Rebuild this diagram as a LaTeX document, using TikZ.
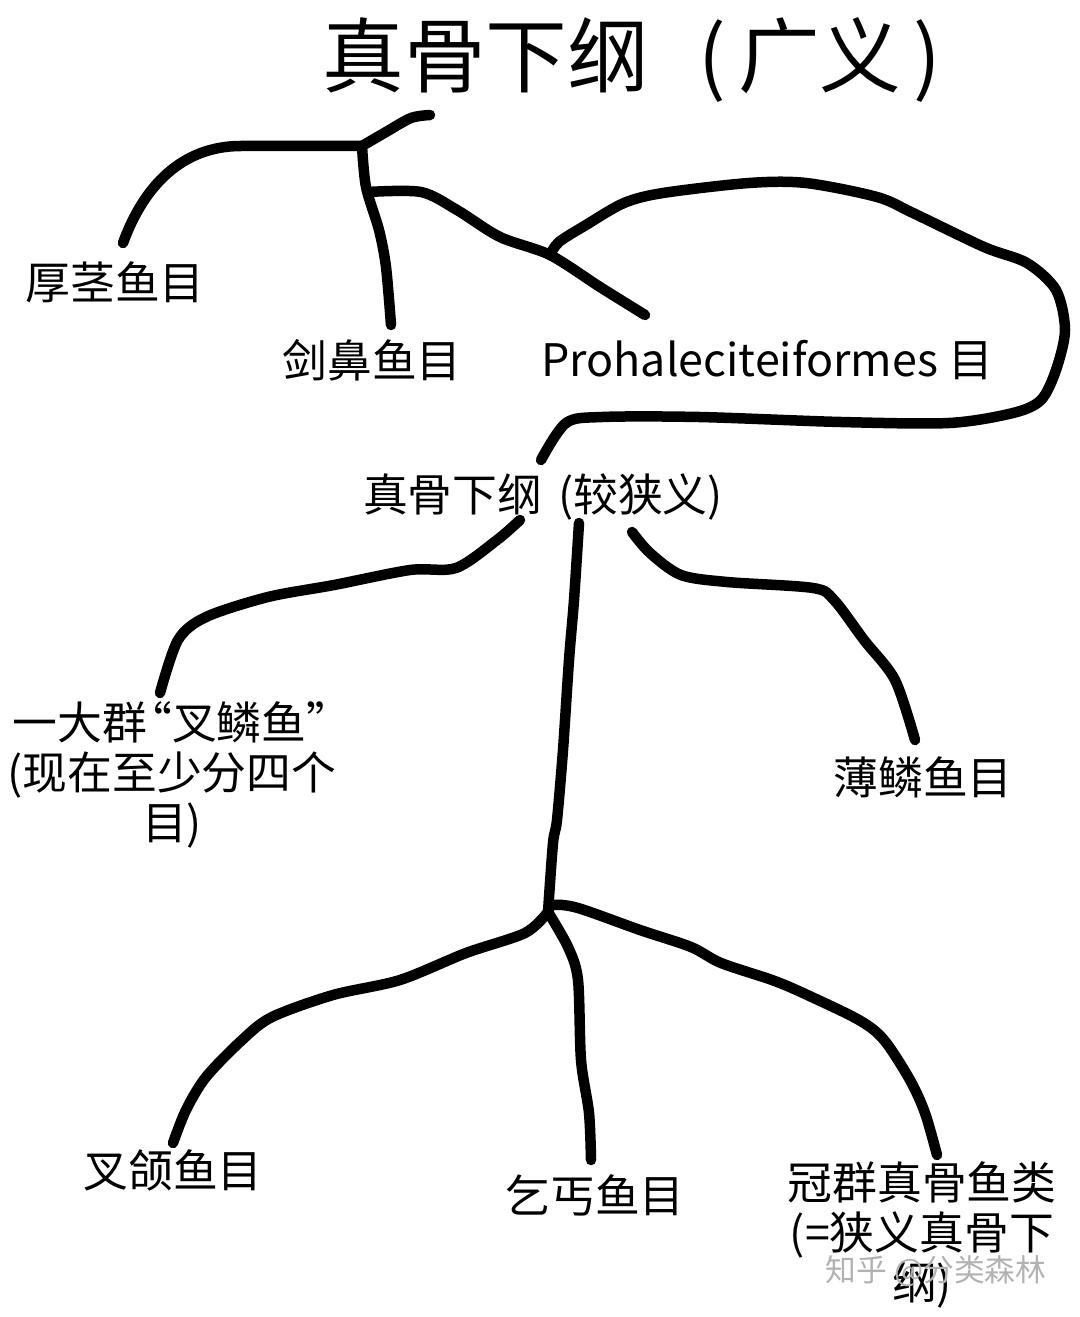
\documentclass[tikz,border=0pt]{standalone}
\usepackage{fontspec}
\setmainfont{Noto Sans CJK SC}
\usetikzlibrary{positioning}

\begin{document}
\begin{tikzpicture}[
  x=0.2mm, y=-0.2mm,
  branch/.style={line width=2.1mm, line cap=round, line join=round},
  taxon/.style={font=\fontsize{25.5}{28.5}\selectfont, inner sep=0pt, align=center},
  headline/.style={font=\fontsize{46.5}{50}\selectfont, inner sep=0pt},
  credit/.style={font=\fontsize{17.5}{20}\selectfont, text=black!30, inner sep=0pt}
]
  \useasboundingbox (0,0) rectangle (1079,1317);

  \node[headline] (title) at (632,60) {真骨下纲\hspace{0.6em}(\kern0.15em 广义\kern0.15em)};
  \node[taxon] (hjy) at (115,282) {厚茎鱼目};
  \node[taxon] (jby) at (372,360) {剑鼻鱼目};
  \node[taxon] (proh) at (767,360) {Prohaleciteiformes 目};
  \node[taxon] (narrow) at (543,497) {真骨下纲\hspace{0.35em}(较狭义)};
  \node[taxon] (chalin) at (172,775) {一大群\kern-0.45em“叉鳞鱼”\kern-0.45em\\(现在至少分四个\\目)};
  \node[taxon] (bly) at (923,777) {薄鳞鱼目};
  \node[taxon] (chahan) at (173,1170) {叉颌鱼目};
  \node[taxon] (qigai) at (595,1195) {乞丐鱼目};
  \node[taxon] (crown) at (922,1235) {冠群真骨鱼类\\(=狭义真骨下\\纲)};
  \node[credit] (mark) at (936,1271) {知乎 @分类森林};

  % junctions and free ends
  \coordinate (stub) at (430,115);
  \coordinate (j1) at (362,146);
  \coordinate (j2) at (368,192);
  \coordinate (j3) at (550,255);
  \coordinate (e-hjy) at (123,243);
  \coordinate (e-jby) at (391,325);
  \coordinate (e-proh) at (645,315);
  \coordinate (e-loop) at (541,460);
  \coordinate (n-left) at (520,520);
  \coordinate (n-mid) at (579,523);
  \coordinate (n-right) at (632,532);
  \coordinate (e-chalin) at (160,693);
  \coordinate (e-bly) at (915,740);
  \coordinate (j4) at (548,912);
  \coordinate (e-chahan) at (173,1143);
  \coordinate (e-qigai) at (591,1160);
  \coordinate (e-crown) at (937,1155);

  \draw[branch] plot[smooth] coordinates {(stub) (411,118) (386,132) (j1)};
  \draw[branch] (j1) -- (241,146) to[out=180, in=70] (e-hjy);
  \draw[branch] plot[smooth] coordinates {(j1) (366,187) (379,230) (386,267) (e-jby)};
  \draw[branch] plot[smooth, tension=0.5] coordinates
    {(j2) (421,192) (457,210) (500,237) (j3) (600,287) (e-proh)};
  \draw[branch] plot[smooth] coordinates
    {(j3) (559,242) (586,225) (624,203) (663,193) (749,183) (806,183) (877,197)
     (913,213) (984,247) (1027,263) (1056,290) (1065,330) (1056,370) (1041,400)
     (1013,413) (949,423) (841,422) (699,417) (602,417) (566,423) (e-loop)};

  \draw[branch] plot[smooth, tension=0.5] coordinates
    {(n-left) (497,540) (456,568) (410,570) (334,585) (268,597) (206,617) (178,640) (e-chalin)};
  \draw[branch] plot[smooth] coordinates
    {(n-mid) (574,600) (569,660) (563,750) (557,820) (553,843) (j4)};
  \draw[branch] plot[smooth, tension=0.5] coordinates
    {(n-right) (650,553) (681,575) (727,582) (813,588) (834,600) (864,640) (895,680) (e-bly)};

  \draw[branch] plot[smooth] coordinates
    {(j4) (525,933) (466,953) (400,980) (333,995) (272,1017) (242,1040) (206,1077) (186,1110) (e-chahan)};
  \draw[branch] plot[smooth] coordinates
    {(j4) (568,947) (578,980) (581,1060) (589,1113) (e-qigai)};
  \draw[branch] plot[smooth] coordinates
    {(j4) (553,905) (578,908) (640,930) (691,947) (721,963) (772,980) (803,993)
     (859,1020) (884,1040) (910,1080) (925,1113) (e-crown)};
\end{tikzpicture}
\end{document}
